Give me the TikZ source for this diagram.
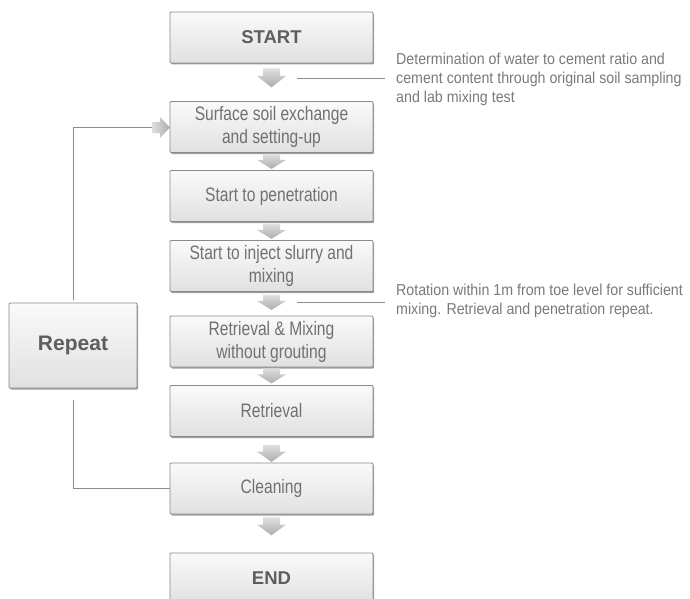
\documentclass[tikz,border=0pt]{standalone}
\usepackage{fontspec}
\setmainfont{Liberation Sans}
\newfontfamily\boxfont[FakeStretch=0.8]{Liberation Sans}
\newfontfamily\notefont[FakeStretch=0.9]{Liberation Sans}
\usetikzlibrary{shadows,calc}
\definecolor{txtgray}{HTML}{717171}
\definecolor{darkgray}{HTML}{5E5E5E}
\definecolor{notegray}{HTML}{7A7A7A}
\definecolor{linegray}{HTML}{8C8C8C}
\definecolor{bordergray}{HTML}{8A8A8A}
\tikzset{
  stepbox/.style={draw=bordergray, line width=0.8pt, rounded corners=1pt,
    top color=gray!4, bottom color=gray!24,
    drop shadow={shadow xshift=1.2pt, shadow yshift=-1.5pt, fill=gray!75, opacity=1},
    minimum width=203pt, minimum height=51pt, align=center, text=txtgray,
    font=\boxfont\fontsize{19.5}{23}\selectfont, inner sep=2pt},
  termbox/.style={stepbox, text=darkgray, font=\bfseries\fontsize{18.5}{21}\selectfont},
  conn/.style={draw=linegray, line width=0.8pt},
  arrowfill/.style={top color=gray!25, bottom color=gray!65, draw=none},
  sidearrow/.style={left color=gray!25, right color=gray!65, draw=none},
  notetext/.style={align=left, text=notegray, inner sep=0pt, anchor=west,
    font=\notefont\fontsize{15.8}{18.7}\selectfont}
}
\newcommand\blkarrow[3]{% node, top gap, length
  \begin{scope}[shift={($(#1.south)+(0,#2)$)}]
    \path[arrowfill] (-8.5,0) -- (8.5,0) -- (8.5,{0.4*#3}) -- (14.5,{0.4*#3}) -- (0,#3)
      -- (-14.5,{0.4*#3}) -- (-8.5,{0.4*#3}) -- cycle;
  \end{scope}}
\begin{document}
\begin{tikzpicture}[x=1pt,y=-1pt]
\clip (0,0) rectangle (690,599);
\fill[white] (0,0) rectangle (690,599);

% main boxes
\node[termbox] (start) at (271.5,37.5) {START};
\node[stepbox] (surface) at (271.5,127) {Surface soil exchange\\and setting-up};
\node[stepbox] (pen) at (271.5,196) {Start to penetration};
\node[stepbox] (inject) at (271.5,266) {Start to inject slurry and\\mixing};
\node[stepbox] (retmix) at (271.5,341.5) {Retrieval \& Mixing\\without grouting};
\node[stepbox] (ret) at (271.5,411) {Retrieval};
\node[stepbox] (clean) at (271.5,488.5) {Cleaning};
\node[termbox] (end) at (271.5,578.5) {END};

% block arrows between boxes
\blkarrow{start}{5}{19}
\blkarrow{surface}{1}{15}
\blkarrow{pen}{2}{15}
\blkarrow{inject}{3}{15}
\blkarrow{retmix}{1}{15}
\blkarrow{ret}{8}{17}
\blkarrow{clean}{3}{18}

% repeat loop
\coordinate (la) at (152,127.5);
\draw[conn] (clean.west) -| (73,400);
\draw[conn] (73,300) |- (la);
\node[stepbox, minimum width=128pt, minimum height=85pt, text=darkgray,
  font=\bfseries\fontsize{21}{24}\selectfont] (repeat) at (73,345.5) {Repeat};
\path[sidearrow] (la) ++(0,-5.5) -- ++(8,0) -- ++(0,-5) -- ++(10,10.5) -- ++(-10,10.5)
  -- ++(0,-5) -- ++(-8,0) -- cycle;

% notes
\node[notetext] (note1) at (396,79.5) {Determination of water to cement ratio and\\cement content through original soil sampling\\and lab mixing test};
\coordinate (n1a) at (297,78);
\coordinate (n1b) at (385,78);
\draw[conn] (n1a) -- (n1b);
\node[notetext] (note2) at (396,301) {Rotation within 1m from toe level for sufficient\\mixing. Retrieval and penetration repeat.};
\coordinate (n2a) at (297,302);
\coordinate (n2b) at (385,302);
\draw[conn] (n2a) -- (n2b);
\end{tikzpicture}
\end{document}
